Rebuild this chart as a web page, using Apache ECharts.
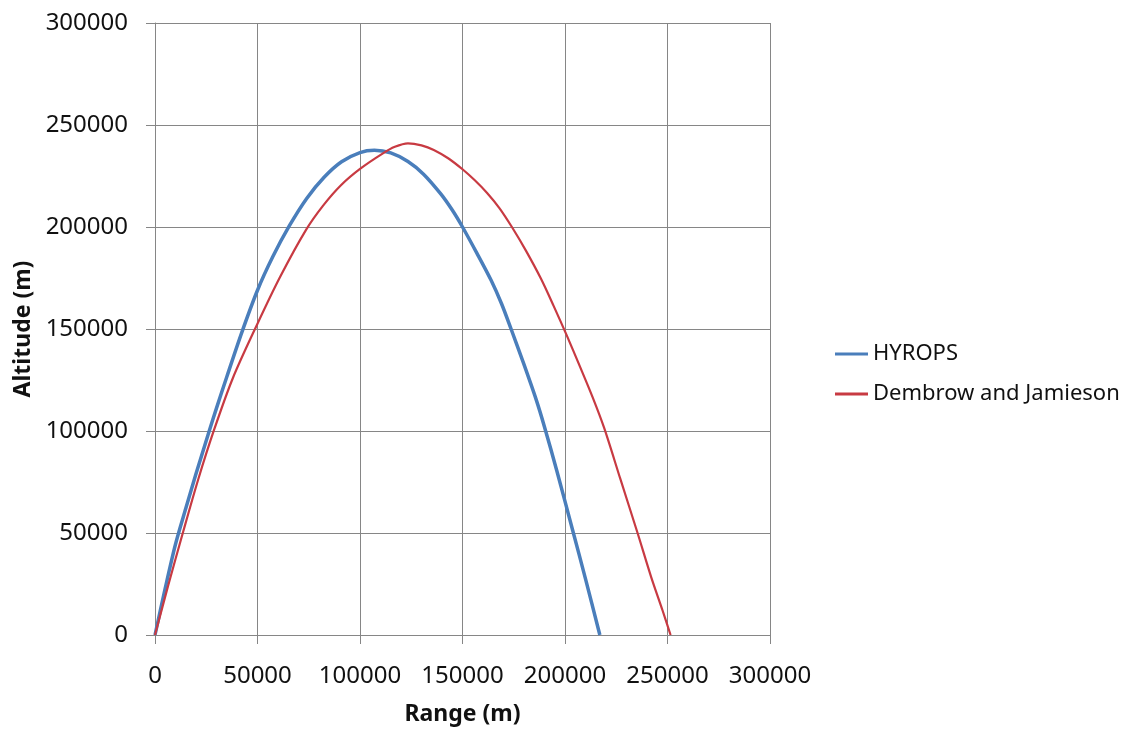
<!DOCTYPE html>
<html>
<head>
    <title>Range vs Altitude</title>
    <meta http-equiv="Content-type" content="text/html; charset=utf-8">
    <script src="https://cdn.jsdelivr.net/npm/echarts@6/dist/echarts.min.js"></script>
    <style>
        html, body { margin: 0; padding: 0; background: #fff; }
        #container { width: 1128px; height: 731px; }
    </style>
</head>
<body>
    <div id="container"></div>
</body>
<script type="text/javascript">
// trajectory data (range in m, altitude in m)
var hyropsRange = [0, 5000, 10000, 15000, 20000, 26300, 30000, 35000, 42400, 50000, 57500, 65500, 74000, 82600, 91000,
                   100000, 107000, 115000, 123400, 131000, 139500, 145000, 150000, 157000, 163900, 169000, 173700,
                   179500, 185900, 190000, 196000, 203700, 210000, 217000];
var hyropsAlt   = [0, 23000, 44500, 62000, 79000, 99500, 111200, 126500, 148500, 169000, 185500, 200500, 214000, 224500, 232000,
                   236500, 237600, 236300, 232100, 225900, 216100, 208300, 200000, 187200, 174000, 162500, 150000,
                   134000, 115500, 102000, 80500, 51500, 27500, 0];

var djRange = [0, 6500, 13700, 21000, 28800, 38000, 49700, 61000, 73600, 82000, 90700, 100000, 111000, 117000, 123400,
               130000, 136000, 143000, 150000, 156000, 162000, 168000, 174100, 181000, 188300, 194500, 200800,
               207000, 213500, 219100, 227000, 235400, 242000, 247600, 251500];
var djAlt   = [0, 24500, 50500, 76000, 100500, 126000, 152000, 175500, 198500, 210500, 220500, 228500, 236000, 239300, 241000,
               240000, 237800, 233700, 228300, 222900, 216700, 209300, 200000, 188300, 174600, 161200, 147000,
               132300, 116500, 101500, 76500, 50000, 28500, 12000, 0];

var ticks = [0, 50000, 100000, 150000, 200000, 250000, 300000];

function pairs(xs, ys) {
    var out = [];
    for (var i = 0; i < xs.length; i++) out.push([xs[i], ys[i]]);
    return out;
}

var axisGray = '#868686';
var fontName = 'Noto Sans';
var blue = '#4a7ebb';
var red = '#c83a42';

var dom = document.getElementById("container");
var myChart = echarts.init(dom, null, {renderer: 'canvas'});
var option = {
    animation: false,
    backgroundColor: '#ffffff',
    grid: {
        left: 155,
        top: 23,
        width: 615,
        height: 615
    },
    legend: {
        orient: 'vertical',
        left: 835,
        top: 343,
        padding: 0,
        itemWidth: 33,
        itemHeight: 3,
        itemGap: 18,
        data: [
            {name: 'HYROPS', icon: 'rect'},
            {name: 'Dembrow and Jamieson', icon: 'rect'}
        ],
        textStyle: {
            fontFamily: fontName,
            fontSize: 22,
            color: '#111'
        }
    },
    xAxis: {
        type: 'value',
        min: ticks[0],
        max: ticks[ticks.length - 1],
        interval: 50000,
        name: 'Range (m)',
        nameLocation: 'middle',
        nameGap: 68,
        nameTextStyle: {
            fontFamily: fontName,
            fontSize: 23,
            fontWeight: 'bold',
            color: '#111'
        },
        axisLine: { show: true, lineStyle: { color: axisGray, width: 1 } },
        axisTick: { show: true, length: 9, lineStyle: { color: axisGray } },
        axisLabel: {
            margin: 29,
            fontFamily: fontName,
            fontSize: 24,
            color: '#111',
            formatter: function (v) { return String(v); }
        },
        splitLine: { show: true, lineStyle: { color: axisGray, width: 1 } }
    },
    yAxis: {
        type: 'value',
        min: ticks[0],
        max: ticks[ticks.length - 1],
        interval: 50000,
        name: 'Altitude (m)',
        nameLocation: 'middle',
        nameGap: 120,
        nameTextStyle: {
            fontFamily: fontName,
            fontSize: 23,
            fontWeight: 'bold',
            color: '#111'
        },
        axisLine: { show: true, lineStyle: { color: axisGray, width: 1 } },
        axisTick: { show: true, length: 9, lineStyle: { color: axisGray } },
        axisLabel: {
            margin: 27,
            fontFamily: fontName,
            fontSize: 24,
            color: '#111',
            formatter: function (v) { return String(v); }
        },
        splitLine: { show: true, lineStyle: { color: axisGray, width: 1 } }
    },
    series: [
        {
            name: 'HYROPS',
            type: 'line',
            data: pairs(hyropsRange, hyropsAlt),
            smooth: 0.3,
            symbol: 'none',
            itemStyle: { color: blue },
            lineStyle: { color: blue, width: 3.5 }
        },
        {
            name: 'Dembrow and Jamieson',
            type: 'line',
            data: pairs(djRange, djAlt),
            smooth: 0.3,
            symbol: 'none',
            itemStyle: { color: red },
            lineStyle: { color: red, width: 2.2 }
        }
    ]
};
myChart.setOption(option, true);
</script>
</html>
